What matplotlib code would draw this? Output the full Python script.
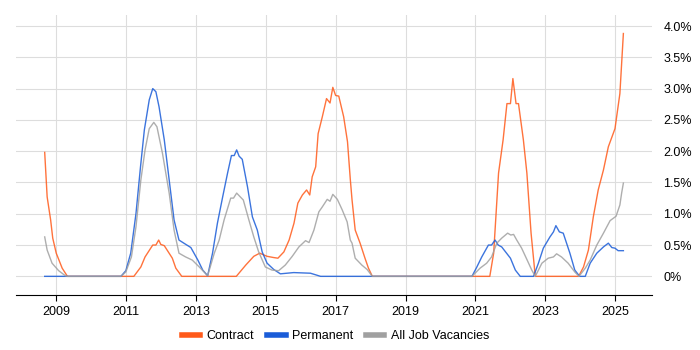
import matplotlib.pyplot as plt
from matplotlib.ticker import FuncFormatter, FixedLocator

plt.rcParams['font.family'] = ['Liberation Sans', 'DejaVu Sans']

# Contract rate (%)
contract_x = [2008.68, 2008.75, 2008.85, 2008.91, 2009.01, 2009.18, 2009.33,
              2011.23, 2011.43, 2011.55, 2011.77, 2011.86, 2011.94, 2012.0, 2012.1,
              2012.33, 2012.43, 2012.6,
              2014.16, 2014.43, 2014.66, 2014.83, 2015.04, 2015.23, 2015.35, 2015.52,
              2015.67, 2015.81, 2015.92, 2016.05, 2016.17, 2016.26, 2016.33, 2016.43,
              2016.5, 2016.62, 2016.74, 2016.84, 2016.92, 2017.0, 2017.09, 2017.23,
              2017.34, 2017.42, 2017.47, 2017.56, 2017.7, 2017.84, 2017.94, 2018.05,
              2021.41, 2021.52, 2021.66, 2021.79, 2021.9, 2022.0, 2022.07, 2022.16,
              2022.23, 2022.37, 2022.47, 2022.59, 2022.71,
              2023.95, 2024.09, 2024.23, 2024.37, 2024.51, 2024.66, 2024.8, 2024.99,
              2025.13, 2025.23]
contract_y = [1.98, 1.27, 0.9, 0.61, 0.37, 0.13, 0,
              0, 0.15, 0.31, 0.5, 0.5, 0.58, 0.51, 0.49,
              0.29, 0.13, 0,
              0, 0.18, 0.32, 0.37, 0.32, 0.3, 0.29, 0.39,
              0.58, 0.85, 1.17, 1.3, 1.38, 1.3, 1.59, 1.75,
              2.28, 2.55, 2.84, 2.77, 3.02, 2.89, 2.88, 2.55,
              2.15, 1.55, 1.22, 0.74, 0.53, 0.29, 0.13, 0,
              0, 0.37, 1.65, 2.18, 2.76, 2.76, 3.16, 2.76,
              2.76, 2.18, 1.65, 0.69, 0,
              0, 0.15, 0.42, 0.95, 1.38, 1.7, 2.07, 2.36,
              2.92, 3.88]

# Permanent rate (%)
perm_x = [2008.68, 2010.86, 2011.0, 2011.14, 2011.29, 2011.42, 2011.53, 2011.67,
          2011.77, 2011.86, 2011.95, 2012.1, 2012.24, 2012.38, 2012.52, 2012.66,
          2012.86, 2013.06, 2013.2, 2013.34, 2013.48, 2013.62, 2013.77, 2013.91,
          2014.02, 2014.1, 2014.17, 2014.24, 2014.33, 2014.48, 2014.62, 2014.76,
          2014.9, 2015.04, 2015.23, 2015.42, 2015.8, 2016.28, 2016.57,
          2020.9, 2021.04, 2021.18, 2021.37, 2021.46, 2021.56, 2021.65, 2021.75,
          2022.0, 2022.14, 2022.28,
          2022.66, 2022.8, 2022.94, 2023.13, 2023.23, 2023.3, 2023.4, 2023.51,
          2023.7, 2023.84, 2023.98, 2024.14, 2024.28, 2024.47, 2024.66, 2024.8,
          2024.9, 2024.99, 2025.08, 2025.23]
perm_y = [0, 0, 0.09, 0.37, 1.0, 1.75, 2.34, 2.82,
          3.0, 2.95, 2.71, 2.18, 1.54, 0.9, 0.58, 0.53,
          0.46, 0.26, 0.1, 0.01, 0.37, 0.85, 1.27, 1.65,
          1.93, 1.93, 2.02, 1.92, 1.87, 1.43, 0.95, 0.74,
          0.39, 0.21, 0.11, 0.04, 0.06, 0.05, 0,
          0, 0.15, 0.31, 0.5, 0.5, 0.58, 0.5, 0.47,
          0.29, 0.1, 0,
          0, 0.21, 0.45, 0.63, 0.71, 0.81, 0.71, 0.69,
          0.37, 0.1, 0, 0, 0.21, 0.37, 0.47, 0.53,
          0.46, 0.45, 0.41, 0.41]

# All job vacancies rate (%)
all_x = [2008.68, 2008.75, 2008.89, 2009.08, 2009.27, 2009.33, 2010.86, 2011.0,
         2011.16, 2011.29, 2011.43, 2011.55, 2011.67, 2011.8, 2011.89, 2012.05,
         2012.24, 2012.38, 2012.52, 2012.71, 2012.9, 2013.1, 2013.34, 2013.53,
         2013.67, 2013.81, 2014.0, 2014.08, 2014.17, 2014.29, 2014.36, 2014.52,
         2014.66, 2014.8, 2014.99, 2015.18, 2015.37, 2015.56, 2015.76, 2015.95,
         2016.14, 2016.24, 2016.38, 2016.52, 2016.62, 2016.76, 2016.84, 2016.92,
         2017.05, 2017.19, 2017.33, 2017.42, 2017.47, 2017.56, 2017.75, 2017.9,
         2018.05, 2020.9, 2021.13, 2021.32, 2021.46, 2021.61, 2021.75, 2021.92,
         2022.01, 2022.09, 2022.18, 2022.32, 2022.47, 2022.61, 2022.71, 2022.9,
         2023.08, 2023.23, 2023.32, 2023.46, 2023.65, 2023.84, 2023.96, 2024.14,
         2024.28, 2024.47, 2024.66, 2024.85, 2025.02, 2025.13, 2025.18, 2025.23]
all_y = [0.63, 0.42, 0.21, 0.09, 0.01, 0, 0, 0.07,
         0.31, 0.79, 1.54, 2.02, 2.36, 2.46, 2.39, 1.96,
         1.33, 0.74, 0.37, 0.31, 0.26, 0.15, 0.01, 0.37,
         0.58, 0.9, 1.25, 1.25, 1.33, 1.26, 1.22, 0.9,
         0.63, 0.39, 0.15, 0.1, 0.09, 0.18, 0.32, 0.47,
         0.57, 0.54, 0.74, 1.03, 1.11, 1.23, 1.2, 1.31,
         1.23, 1.06, 0.87, 0.58, 0.53, 0.29, 0.18, 0.11,
         0, 0, 0.13, 0.21, 0.31, 0.53, 0.61, 0.69,
         0.66, 0.67, 0.58, 0.45, 0.27, 0.1, 0, 0.21,
         0.29, 0.31, 0.36, 0.31, 0.21, 0.07, 0, 0.13,
         0.26, 0.5, 0.69, 0.89, 0.96, 1.14, 1.33, 1.49]

year_ticks = [2009, 2011, 2013, 2015, 2017, 2019, 2021, 2023, 2025]
pct_ticks = [0, 0.5, 1.0, 1.5, 2.0, 2.5, 3.0, 3.5, 4.0]

fig = plt.figure(figsize=(7, 3.5), dpi=100)
ax = fig.add_axes([0.0224, 0.157, 0.9096, 0.8])

ax.plot(contract_x, contract_y, color='#ff5a1a', lw=1.0, alpha=0.85, label='Contract')
ax.plot(perm_x, perm_y, color='#1a5cd8', lw=1.0, alpha=0.85, label='Permanent')
ax.plot(all_x, all_y, color='#a0a0a0', lw=1.0, alpha=0.85, label='All Job Vacancies')

ax.set_xlim(2007.85, 2026.06)
ax.set_ylim(-0.299, 4.175)
ax.xaxis.set_major_locator(FixedLocator(year_ticks))
ax.yaxis.set_major_locator(FixedLocator(pct_ticks))
ax.yaxis.set_major_formatter(FuncFormatter(lambda v, p: '0%' if v == 0 else f'{v:.1f}%'))
ax.yaxis.tick_right()
ax.grid(True, color='#dddddd', lw=0.8)
ax.set_axisbelow(True)
for s in ['top', 'left', 'right']:
    ax.spines[s].set_visible(False)
ax.spines['bottom'].set_color('black')
ax.tick_params(axis='x', length=4, width=0.8, labelsize=9, pad=4)
ax.tick_params(axis='y', length=0, labelsize=9, pad=8)

leg = fig.legend(loc='lower center', bbox_to_anchor=(0.479, -0.01), ncol=3, frameon=False,
                 fontsize=9, handlelength=1.5, columnspacing=1.0, handletextpad=0.5)
for line in leg.get_lines():
    line.set_linewidth(4)
    line.set_alpha(1)

fig.savefig('out.png', dpi=100)
